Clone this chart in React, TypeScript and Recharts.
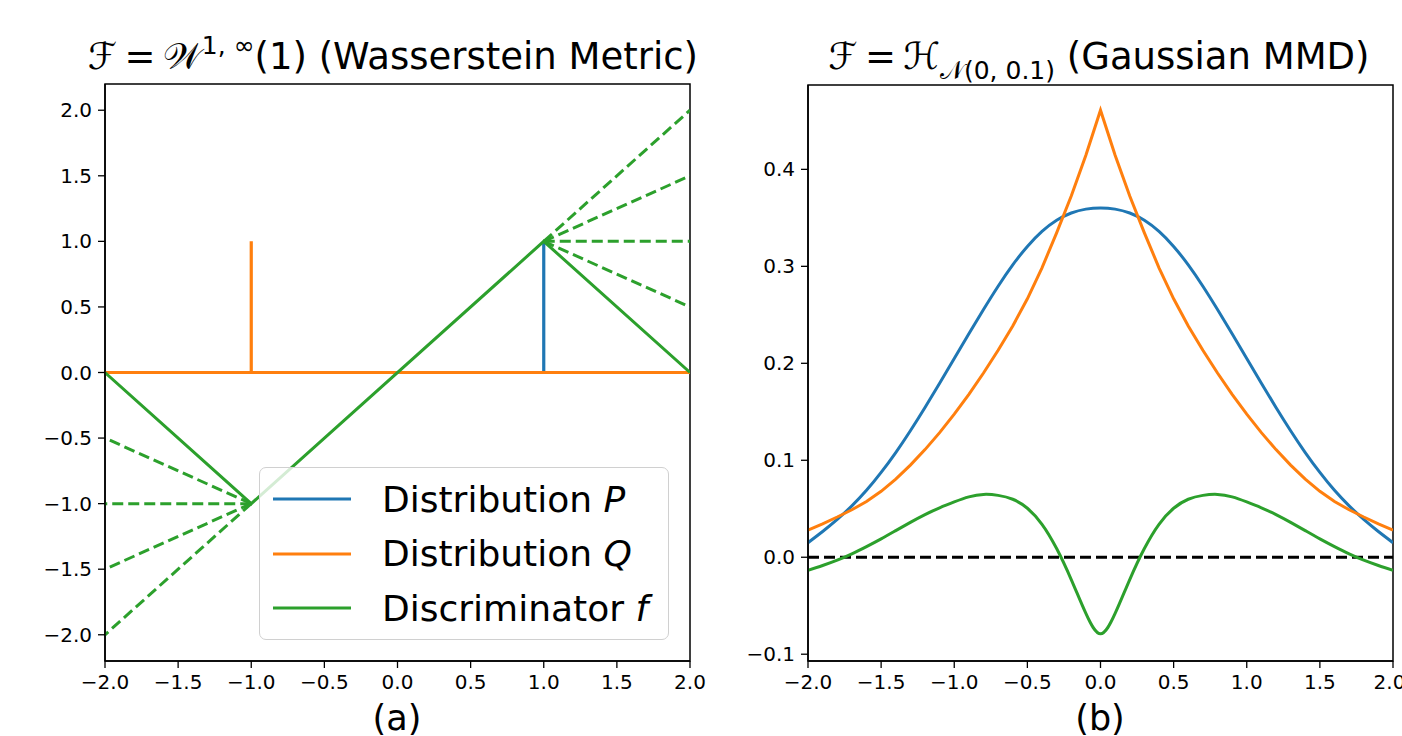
import React from "react";
import {
  LineChart,
  Line,
  XAxis,
  YAxis,
  ReferenceArea,
  ReferenceLine,
} from "recharts";

const FONT = "DejaVu Sans";
const BLUE = "#1f77b4";
const ORANGE = "#ff7f0e";
const GREEN = "#2ca02c";

// shared x ticks
const xTicks = [-2, -1.5, -1, -0.5, 0, 0.5, 1, 1.5, 2];

// panel (a): Wasserstein
const leftYTicks = [-2, -1.5, -1, -0.5, 0, 0.5, 1, 1.5, 2];
const pX = [-2, 1, 1, 1, 2];
const pY = [0, 0, 1, 0, 0];
const qX = [-2, -1, -1, -1, 2];
const qY = [0, 0, 1, 0, 0];
const fX = [-2, -1, 1, 2];
const fY = [0, -1, 1, 0];
const leftFanEnds = [-0.5, -1, -1.5, -2];
const rightFanEnds = [2, 1.5, 1, 0.5];

// panel (b): Gaussian MMD
const rightYTicks = [-0.1, 0, 0.1, 0.2, 0.3, 0.4];
const mmdX = [
  -2.0, -1.9, -1.8, -1.7, -1.6, -1.5, -1.4, -1.3, -1.2, -1.1, -1.0, -0.9, -0.8,
  -0.7, -0.6, -0.5, -0.4, -0.3, -0.2, -0.1, 0.0, 0.1, 0.2, 0.3, 0.4, 0.5, 0.6,
  0.7, 0.8, 0.9, 1.0, 1.1, 1.2, 1.3, 1.4, 1.5, 1.6, 1.7, 1.8, 1.9, 2.0,
];
const mmdP = [
  0.015, 0.0265, 0.039, 0.053, 0.069, 0.0875, 0.108, 0.1305, 0.1545, 0.1795,
  0.205, 0.2305, 0.2555, 0.2795, 0.3015, 0.3205, 0.336, 0.3475, 0.355, 0.359,
  0.3602, 0.359, 0.355, 0.3475, 0.336, 0.3205, 0.3015, 0.2795, 0.2555, 0.2305,
  0.205, 0.1795, 0.1545, 0.1305, 0.108, 0.0875, 0.069, 0.053, 0.039, 0.0265,
  0.015,
];
const mmdQ = [
  0.028, 0.0345, 0.0415, 0.049, 0.0575, 0.068, 0.0805, 0.095, 0.111, 0.1285,
  0.1475, 0.168, 0.19, 0.2135, 0.2385, 0.2665, 0.2985, 0.3345, 0.3725, 0.4145,
  0.461, 0.4145, 0.3725, 0.3345, 0.2985, 0.2665, 0.2385, 0.2135, 0.19, 0.168,
  0.1475, 0.1285, 0.111, 0.095, 0.0805, 0.068, 0.0575, 0.049, 0.0415, 0.0345,
  0.028,
];
const mmdF = [
  -0.0134, -0.0085, -0.003, 0.0035, 0.011, 0.019, 0.0275, 0.036, 0.044, 0.051,
  0.057, 0.0622, 0.0648, 0.0638, 0.0598, 0.0505, 0.034, 0.009, -0.023, -0.058,
  -0.079, -0.058, -0.023, 0.009, 0.034, 0.0505, 0.0598, 0.0638, 0.0648, 0.0622,
  0.057, 0.051, 0.044, 0.036, 0.0275, 0.019, 0.011, 0.0035, -0.003, -0.0085,
  -0.0134,
];

const pts = (xs: number[], ys: number[]) => xs.map((x, i) => ({ x, y: ys[i] }));
const mmdData = mmdX.map((x, i) => ({ x, p: mmdP[i], q: mmdQ[i], f: mmdF[i] }));

const fmt = (v: number) => v.toFixed(1).replace("-", "\u2212");
const tickStyle = { fontSize: 20, fill: "#000", fontFamily: FONT };
const axisLine = { stroke: "#000", strokeWidth: 1.5 };
const tickLine = { stroke: "#000", strokeWidth: 1.3 };

function LeftPanel() {
  return (
    <div style={{ position: "absolute", left: 0, top: 0 }}>
      <LineChart
        width={720}
        height={736}
        margin={{ top: 84, right: 30, bottom: 45, left: 45 }}
      >
        <XAxis
          type="number"
          dataKey="x"
          domain={[-2, 2]}
          ticks={xTicks}
          tickFormatter={fmt}
          height={30}
          tickSize={7}
          tickMargin={7}
          tick={tickStyle}
          axisLine={axisLine}
          tickLine={tickLine}
          allowDataOverflow
        />
        <YAxis
          type="number"
          domain={[-2.2, 2.2]}
          ticks={leftYTicks}
          tickFormatter={fmt}
          width={60}
          tickSize={7}
          tickMargin={6}
          tick={tickStyle}
          axisLine={axisLine}
          tickLine={tickLine}
          allowDataOverflow
        />
        <Line data={pts(pX, pY)} dataKey="y" stroke={BLUE} strokeWidth={3.2} dot={false} activeDot={false} isAnimationActive={false} type="linear" />
        <Line data={pts(qX, qY)} dataKey="y" stroke={ORANGE} strokeWidth={3.2} dot={false} activeDot={false} isAnimationActive={false} type="linear" />
        <Line data={pts(fX, fY)} dataKey="y" stroke={GREEN} strokeWidth={3} dot={false} activeDot={false} isAnimationActive={false} type="linear" />
        {leftFanEnds.map((e) => (
          <Line
            key={"l" + e}
            data={pts([-1, -2], [-1, e])}
            dataKey="y"
            stroke={GREEN}
            strokeWidth={3}
            strokeDasharray="11 5"
            dot={false}
            activeDot={false}
            isAnimationActive={false}
            type="linear"
          />
        ))}
        {rightFanEnds.map((e) => (
          <Line
            key={"r" + e}
            data={pts([1, 2], [1, e])}
            dataKey="y"
            stroke={GREEN}
            strokeWidth={3}
            strokeDasharray="11 5"
            dot={false}
            activeDot={false}
            isAnimationActive={false}
            type="linear"
          />
        ))}
        <ReferenceArea x1={-2} x2={2} y1={-2.2} y2={2.2} fill="none" stroke="#000" strokeWidth={1.5} ifOverflow="visible" />
      </LineChart>
    </div>
  );
}

function RightPanel() {
  return (
    <div style={{ position: "absolute", left: 720, top: 0 }}>
      <LineChart
        width={682}
        height={736}
        data={mmdData}
        margin={{ top: 85, right: 9, bottom: 45, left: 28 }}
      >
        <XAxis
          type="number"
          dataKey="x"
          domain={[-2, 2]}
          ticks={xTicks}
          tickFormatter={fmt}
          height={30}
          tickSize={7}
          tickMargin={7}
          tick={tickStyle}
          axisLine={axisLine}
          tickLine={tickLine}
          allowDataOverflow
        />
        <YAxis
          type="number"
          domain={[-0.107, 0.487]}
          ticks={rightYTicks}
          tickFormatter={fmt}
          width={60}
          tickSize={7}
          tickMargin={6}
          tick={tickStyle}
          axisLine={axisLine}
          tickLine={tickLine}
          allowDataOverflow
        />
        <ReferenceLine y={0} stroke="#000" strokeWidth={3} strokeDasharray="11 5" />
        <Line dataKey="p" stroke={BLUE} strokeWidth={3} dot={false} activeDot={false} isAnimationActive={false} type="natural" />
        <Line dataKey="q" stroke={ORANGE} strokeWidth={3} dot={false} activeDot={false} isAnimationActive={false} type="linear" />
        <Line dataKey="f" stroke={GREEN} strokeWidth={3} dot={false} activeDot={false} isAnimationActive={false} type="natural" />
        <ReferenceArea x1={-2} x2={2} y1={-0.107} y2={0.487} fill="none" stroke="#000" strokeWidth={1.5} ifOverflow="visible" />
      </LineChart>
    </div>
  );
}

const legendItems = [
  { color: BLUE, label: "Distribution ", sym: "P" },
  { color: ORANGE, label: "Distribution ", sym: "Q" },
  { color: GREEN, label: "Discriminator ", sym: "f" },
];

function Legend() {
  return (
    <div
      style={{
        position: "absolute",
        left: 259,
        top: 467,
        width: 410,
        height: 173,
        border: "1.5px solid #d0d0d0",
        borderRadius: 7,
        background: "rgba(255,255,255,0.8)",
        fontFamily: FONT,
        fontSize: 36,
        boxSizing: "border-box",
      }}
    >
      {legendItems.map((it, i) => (
        <div
          key={i}
          style={{
            position: "absolute",
            left: 13,
            top: 31 + i * 54.5 - 20,
            height: 40,
            display: "flex",
            alignItems: "center",
            whiteSpace: "nowrap",
          }}
        >
          <svg width={78} height={6} style={{ marginRight: 31 }}>
            <line x1={0} y1={3} x2={78} y2={3} stroke={it.color} strokeWidth={3} />
          </svg>
          <span>
            {it.label}
            <i>{it.sym}</i>
          </span>
        </div>
      ))}
    </div>
  );
}

function Labels() {
  return (
    <svg
      width={1402}
      height={736}
      style={{ position: "absolute", left: 0, top: 0, pointerEvents: "none" }}
      fontFamily={FONT}
    >
      <text x={393} y={69} textAnchor="middle" fontSize={37} fill="#000">
        {"\u2131\u2009=\u2009\uD835\uDCB2"}
        <tspan dy={-15} fontSize={25}>
          {"1, \u221E"}
        </tspan>
        <tspan dy={15}>{"(1) (Wasserstein Metric)"}</tspan>
      </text>
      <text x={1099} y={69} textAnchor="middle" fontSize={37} fill="#000">
        {"\u2131\u2009=\u2009\u210B"}
        <tspan dy={10} fontSize={25}>
          {"\uD835\uDCA9(0, 0.1)"}
        </tspan>
        <tspan dy={-10}>{" (Gaussian MMD)"}</tspan>
      </text>
      <text x={397} y={730} textAnchor="middle" fontSize={35} fill="#000">
        (a)
      </text>
      <text x={1100} y={730} textAnchor="middle" fontSize={35} fill="#000">
        (b)
      </text>
    </svg>
  );
}

export default function App() {
  return (
    <div
      style={{
        position: "absolute",
        left: 0,
        top: 0,
        width: 1402,
        height: 736,
        background: "#fff",
        overflow: "hidden",
        fontFamily: FONT,
      }}
    >
      <LeftPanel />
      <RightPanel />
      <Legend />
      <Labels />
    </div>
  );
}
